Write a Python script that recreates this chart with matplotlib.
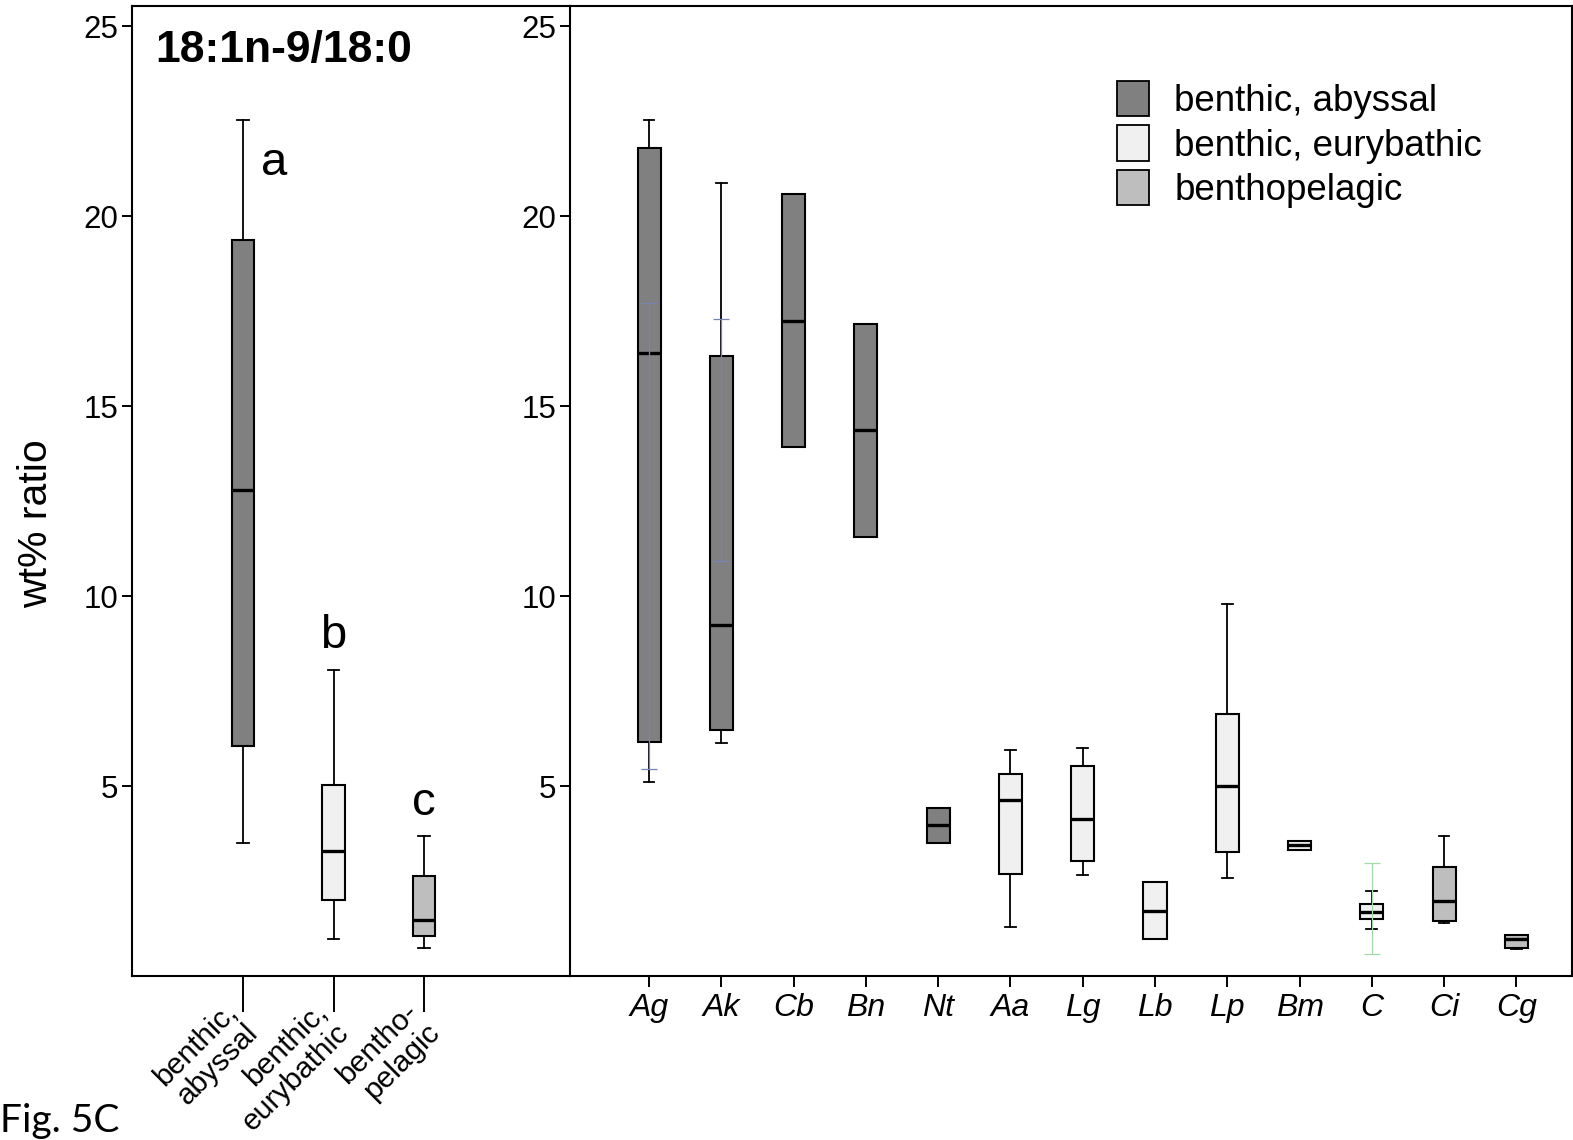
#!/usr/bin/env python3
"""18:1n-9/18:0 ratio boxplots by habitat group and by species (Fig. 5C)."""

import matplotlib

matplotlib.use("Agg")
import matplotlib.pyplot as plt
from matplotlib.patches import Patch

plt.rcParams["font.family"] = ["Liberation Sans", "DejaVu Sans"]

# habitat groups (left panel)
group_labels = ["benthic,\nabyssal", "benthic,\neurybathic", "bentho-\npelagic"]
group_kind = [0, 1, 2]
group_whislo = [3.51, 0.97, 0.74]
group_q1 = [6.06, 2.00, 1.05]
group_med = [12.79, 3.29, 1.47]
group_q3 = [19.37, 5.03, 2.63]
group_whishi = [22.53, 8.05, 3.69]
group_letters = ["a", "b", "c"]
group_letter_x = [0.34, 1.0, 2.0]
group_letter_y = [21.08, 8.63, 4.24]

# species (right panel)
species = ["Ag", "Ak", "Cb", "Bn", "Nt", "Aa", "Lg", "Lb", "Lp", "Bm", "C", "Ci", "Cg"]
species_kind = [0, 0, 0, 0, 0, 1, 1, 1, 1, 1, 1, 2, 2]
species_whislo = [5.11, 6.12, 13.91, 11.56, 3.50, 1.29, 2.67, 0.97, 2.58, 3.32, 1.23, 1.40, 0.71]
species_q1 = [6.16, 6.47, 13.91, 11.56, 3.50, 2.69, 3.02, 0.97, 3.26, 3.32, 1.49, 1.46, 0.74]
species_med = [16.41, 9.25, 17.25, 14.37, 3.97, 4.62, 4.14, 1.72, 5.00, 3.44, 1.68, 1.98, 0.97]
species_q3 = [21.79, 16.32, 20.58, 17.17, 4.43, 5.32, 5.53, 2.47, 6.89, 3.55, 1.89, 2.88, 1.08]
species_whishi = [22.53, 20.88, 20.58, 17.17, 4.43, 5.95, 5.99, 2.47, 9.79, 3.55, 2.23, 3.69, 1.08]

# faint range bars drawn over some species boxes
faint_species = ["Ag", "Ak", "C"]
faint_lo = [5.45, 10.92, 0.57]
faint_hi = [17.72, 17.29, 2.97]
faint_colors = ["#7585b5", "#7585b5", "#a0dca8"]

kind_names = ["benthic, abyssal", "benthic, eurybathic", "benthopelagic"]
kind_colors = ["#808080", "#f0f0f0", "#bebebe"]

yticks = [5, 10, 15, 20, 25]
YMAX = 25.53

W, H = 1573, 1140


def _stats(lo, q1, med, q3, hi):
    return [
        dict(whislo=a, q1=b, med=c, q3=d, whishi=e, fliers=[])
        for a, b, c, d, e in zip(lo, q1, med, q3, hi)
    ]


def _draw_boxes(ax, stats, kinds, width, capw):
    bp = ax.bxp(
        stats,
        positions=list(range(len(stats))),
        widths=width,
        capwidths=capw,
        patch_artist=True,
        showfliers=False,
        boxprops=dict(linewidth=1.5, edgecolor="black"),
        whiskerprops=dict(linewidth=1.3, color="black"),
        capprops=dict(linewidth=1.3, color="black"),
        medianprops=dict(linewidth=2.4, color="black"),
    )
    for patch, k in zip(bp["boxes"], kinds):
        patch.set_facecolor(kind_colors[k])
    return bp


def _style_axis(ax):
    ax.set_ylim(0, YMAX)
    ax.set_yticks(yticks)
    ax.tick_params(axis="y", labelsize=22.5, length=7, width=1.4, pad=3)
    for sp in ax.spines.values():
        sp.set_linewidth(1.5)


fig = plt.figure(figsize=(W / 100, H / 100), dpi=100)
bottom = 1 - 976 / H
height = 970 / H
ax_l = fig.add_axes([132 / W, bottom, (570 - 132) / W, height])
ax_r = fig.add_axes([570 / W, bottom, (1572 - 570) / W, height])

# left panel
_draw_boxes(ax_l, _stats(group_whislo, group_q1, group_med, group_q3, group_whishi),
            group_kind, 0.25, 0.13)
_style_axis(ax_l)
ax_l.spines["right"].set_visible(False)
ax_l.set_xlim(-1.227, 3.613)
ax_l.set_xticks(range(len(group_labels)))
ax_l.set_xticklabels(group_labels, rotation=45, ha="right", va="center",
                     rotation_mode="anchor", fontsize=21.5, linespacing=1.1)
ax_l.tick_params(axis="x", length=26, width=1.4, pad=4)
for x, y, s in zip(group_letter_x, group_letter_y, group_letters):
    ax_l.text(x, y, s, fontsize=34, ha="center", va="baseline")
ax_l.text(0.0525, 0.9423, "18:1n-9/18:0", transform=ax_l.transAxes,
          fontsize=32, fontweight="bold", ha="left", va="baseline")

# right panel
_draw_boxes(ax_r, _stats(species_whislo, species_q1, species_med, species_q3, species_whishi),
            species_kind, 0.32, 0.15)
for name, lo, hi, c in zip(faint_species, faint_lo, faint_hi, faint_colors):
    x = species.index(name)
    mid = (lo + hi) / 2
    ax_r.errorbar([x], [mid], yerr=[[mid - lo], [hi - mid]], fmt="none",
                  ecolor=c, elinewidth=0.9, capsize=6, capthick=0.9, zorder=4)
_style_axis(ax_r)
ax_r.set_xlim(-1.094, 12.77)
ax_r.set_xticks(range(len(species)))
ax_r.set_xticklabels(species, fontsize=23, style="italic")
ax_r.tick_params(axis="x", length=8, width=1.4, pad=4)

handles = [Patch(facecolor=c, edgecolor="black", linewidth=1.3) for c in kind_colors]
fig.legend(handles, kind_names, loc="upper left",
           bbox_to_anchor=(1117 / W, 1 - 81 / H), frameon=False, fontsize=26.5,
           handlelength=0.86, handleheight=1.1, handletextpad=0.7,
           labelspacing=0.17, borderpad=0, borderaxespad=0)

fig.text(36 / W, 1 - 524 / H, "wt% ratio", rotation=90, fontsize=29.5,
         ha="center", va="center")
fig.text(0.0, 1 / H, "Fig. 5C", fontsize=28, ha="left", va="bottom",
         family=["Lato", "DejaVu Sans"])

fig.savefig("out.png", dpi=100)
